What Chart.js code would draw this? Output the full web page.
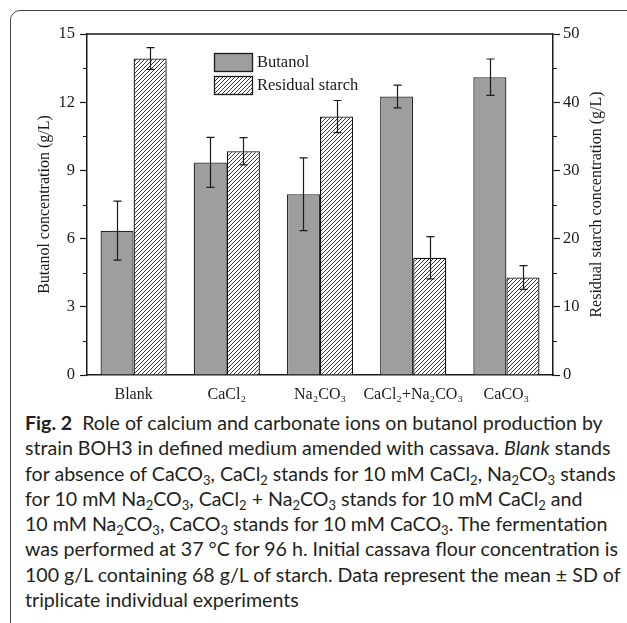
<!DOCTYPE html>
<html>
<head>
<meta charset="utf-8">
<script src="https://cdn.jsdelivr.net/npm/chart.js"></script>
<style>
  html, body { margin: 0; padding: 0; background: #fff; overflow: hidden; }
  #wrap { position: relative; width: 627px; height: 623px; overflow: hidden; }
  #frame {
    position: absolute; left: 10px; top: 10px; width: 700px; height: 700px;
    border: 1.3px solid #444; border-top-left-radius: 10px;
  }
  #chart { position: absolute; left: 0; top: 0; }
  #caption {
    position: absolute; left: 25px; top: 410px;
    font-family: Lato, "Open Sans", sans-serif; font-size: 19.6px; line-height: 25.3px;
    color: #231f20; white-space: nowrap;
  }
  #caption sub { font-size: 13px; vertical-align: -4px; line-height: 0; }
</style>
</head>
<body>
<div id="wrap">
  <div id="frame"></div>
  <canvas id="chart" width="627" height="410"></canvas>
  <div id="caption">
    <div><b>Fig. 2</b>&nbsp;&nbsp;Role of calcium and carbonate ions on butanol production by</div>
    <div>strain BOH3 in defined medium amended with cassava. <i>Blank</i> stands</div>
    <div>for absence of CaCO<sub>3</sub>, CaCl<sub>2</sub> stands for 10 mM CaCl<sub>2</sub>, Na<sub>2</sub>CO<sub>3</sub> stands</div>
    <div>for 10 mM Na<sub>2</sub>CO<sub>3</sub>, CaCl<sub>2</sub> + Na<sub>2</sub>CO<sub>3</sub> stands for 10 mM CaCl<sub>2</sub> and</div>
    <div>10 mM Na<sub>2</sub>CO<sub>3</sub>, CaCO<sub>3</sub> stands for 10 mM CaCO<sub>3</sub>. The fermentation</div>
    <div>was performed at 37 °C for 96 h. Initial cassava flour concentration is</div>
    <div>100 g/L containing 68 g/L of starch. Data represent the mean ± SD of</div>
    <div>triplicate individual experiments</div>
  </div>
</div>
<script>
// data
const categories = ["Blank", "CaCl₂", "Na₂CO₃", "CaCl₂+Na₂CO₃", "CaCO₃"];
const butanol = [6.35, 9.35, 7.95, 12.25, 13.1];
const butanolSD = [1.3, 1.1, 1.6, 0.5, 0.8];
const starch = [46.4, 32.8, 37.9, 17.2, 14.3];
const starchSD = [1.6, 2.0, 2.35, 3.1, 1.75];
const leftTicks = [0, 3, 6, 9, 12, 15];
const rightTicks = [0, 10, 20, 30, 40, 50];

const serif = "'Liberation Serif', 'Times New Roman', serif";
const ink = "#1a1a1a";

// diagonal hatch for residual starch
function makeHatch() {
  const c = document.createElement("canvas");
  c.width = 4; c.height = 4;
  const g = c.getContext("2d");
  g.fillStyle = "#fff";
  g.fillRect(0, 0, 4, 4);
  g.strokeStyle = "#222";
  g.lineWidth = 0.9;
  g.beginPath();
  g.moveTo(0, 4); g.lineTo(4, 0);
  g.moveTo(-1, 1); g.lineTo(1, -1);
  g.moveTo(3, 5); g.lineTo(5, 3);
  g.stroke();
  return g.createPattern(c, "repeat");
}
const hatch = makeHatch();
const grey = "#9d9e9d";

// error bars, drawn from the same values through the scales
const errorBars = {
  id: "errorBars",
  afterDatasetsDraw(chart) {
    const ctx = chart.ctx;
    ctx.save();
    ctx.strokeStyle = ink;
    ctx.lineWidth = 1.2;
    chart.data.datasets.forEach((ds, i) => {
      const meta = chart.getDatasetMeta(i);
      const scale = chart.scales[ds.yAxisID];
      meta.data.forEach((bar, j) => {
        const v = ds.data[j], e = ds.sd[j];
        const yt = scale.getPixelForValue(v + e);
        const yb = scale.getPixelForValue(v - e);
        const x = Math.round(bar.x) + 0.5;
        ctx.beginPath();
        ctx.moveTo(x, yt); ctx.lineTo(x, yb);
        ctx.moveTo(x - 4, yt); ctx.lineTo(x + 4, yt);
        ctx.moveTo(x - 4, yb); ctx.lineTo(x + 4, yb);
        ctx.stroke();
      });
    });
    ctx.restore();
  }
};

// frame top line, minor ticks, legend and right axis title
const decor = {
  id: "decor",
  afterDraw(chart) {
    const ctx = chart.ctx;
    const a = chart.chartArea;
    ctx.save();
    ctx.strokeStyle = ink;
    ctx.lineWidth = 1.5;
    ctx.beginPath();
    ctx.moveTo(a.left, a.top); ctx.lineTo(a.right, a.top);
    ctx.stroke();

    ctx.lineWidth = 1.2;
    const y = chart.scales.y, y1 = chart.scales.y1;
    ctx.beginPath();
    for (let v = 1.5; v < 15; v += 3) {
      const p = Math.round(y.getPixelForValue(v)) + 0.5;
      ctx.moveTo(a.left - 4, p); ctx.lineTo(a.left, p);
    }
    for (let v = 5; v < 50; v += 10) {
      const p = Math.round(y1.getPixelForValue(v)) + 0.5;
      ctx.moveTo(a.right, p); ctx.lineTo(a.right + 4, p);
    }
    ctx.stroke();

    // legend
    const lx = 214, ly = [53, 76], bw = 38, bh = 18;
    ctx.font = "16.5px " + serif;
    ctx.textBaseline = "middle";
    chart.data.datasets.forEach((ds, i) => {
      ctx.fillStyle = ds.backgroundColor;
      ctx.fillRect(lx, ly[i], bw, bh);
      ctx.strokeStyle = ink;
      ctx.lineWidth = 1.3;
      ctx.strokeRect(lx + 0.5, ly[i] + 0.5, bw, bh);
      ctx.fillStyle = ink;
      ctx.fillText(ds.label, lx + bw + 5, ly[i] + bh / 2 + 1);
    });

    // right axis title, reading bottom to top
    ctx.translate(597, (a.top + a.bottom) / 2);
    ctx.rotate(-Math.PI / 2);
    ctx.textAlign = "center";
    ctx.font = "16px " + serif;
    ctx.fillText("Residual starch concentration (g/L)", 0, 0);
    ctx.restore();
  }
};

new Chart(document.getElementById("chart"), {
  type: "bar",
  data: {
    labels: categories,
    datasets: [
      {
        label: "Butanol",
        data: butanol,
        sd: butanolSD,
        yAxisID: "y",
        backgroundColor: grey,
        borderColor: "#2a2a2a",
        borderWidth: 1.3,
      },
      {
        label: "Residual starch",
        data: starch,
        sd: starchSD,
        yAxisID: "y1",
        backgroundColor: hatch,
        borderColor: "#111",
        borderWidth: 1.3,
      },
    ],
  },
  options: {
    responsive: false,
    animation: false,
    devicePixelRatio: 1,
    categoryPercentage: 0.71,
    barPercentage: 1.0,
    layout: { padding: { top: 34, left: 0, right: 0, bottom: 0 } },
    plugins: { legend: { display: false }, tooltip: { enabled: false } },
    scales: {
      x: {
        grid: { display: false, drawTicks: false },
        border: { display: true, color: ink, width: 1.5 },
        ticks: { color: ink, padding: 10, font: { family: serif, size: 16 }, maxRotation: 0, autoSkip: false },
        afterFit(s) { s.height = 35; },
      },
      y: {
        position: "left",
        min: 0, max: 15,
        afterBuildTicks(s) { s.ticks = leftTicks.map(v => ({ value: v })); },
        grid: { drawOnChartArea: false, tickLength: 7, tickColor: ink, tickWidth: 1.2 },
        border: { color: ink, width: 1.5 },
        ticks: { color: ink, padding: 5, font: { family: serif, size: 16.5 } },
        title: {
          display: true, text: "Butanol concentration (g/L)", color: ink,
          font: { family: serif, size: 16 }, padding: { top: 35, bottom: 0 },
        },
        afterFit(s) { s.width = 87; },
      },
      y1: {
        position: "right",
        min: 0, max: 50,
        afterBuildTicks(s) { s.ticks = rightTicks.map(v => ({ value: v })); },
        grid: { drawOnChartArea: false, tickLength: 7, tickColor: ink, tickWidth: 1.2 },
        border: { color: ink, width: 1.5 },
        ticks: { color: ink, padding: 3, font: { family: serif, size: 16.5 } },
        afterFit(s) { s.width = 74; },
      },
    },
  },
  plugins: [errorBars, decor],
});
</script>
</body>
</html>
